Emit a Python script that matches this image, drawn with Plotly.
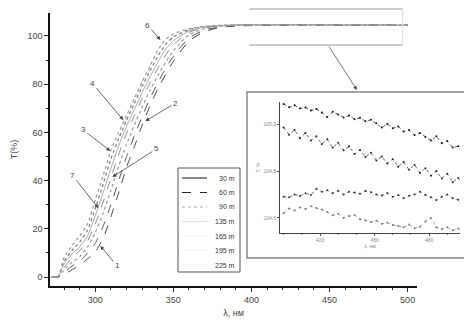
import plotly.graph_objects as go

# ---------------- data ----------------
wavelength = [272, 276, 280, 285, 290, 295, 300, 305, 310, 315, 320, 325, 330, 335,
              340, 345, 350, 360, 370, 380, 390, 400, 425, 450, 475, 500]

t_30m = [0, 0, 1, 3, 5, 7.5, 10.5, 16, 25, 35, 45.5, 54, 63, 71, 78, 84, 89.5, 97.8,
         101.8, 103.5, 104.1, 104.3, 104.5, 104.4, 104.4, 104.3]
t_60m = [0, 0, 2, 4.5, 6.5, 10, 14, 21, 30, 40, 50, 58.5, 66.5, 74, 80.5, 86.5, 91.5,
         99.2, 102.4, 103.7, 104.2, 104.4, 104.5, 104.5, 104.5, 104.4]
t_90m = [0, 0, 6.5, 11, 14.5, 19.5, 28.5, 38.5, 49, 57.5, 65, 72, 79, 85.5, 91.5, 96.5,
         99.5, 102.6, 103.8, 104.3, 104.5, 104.6, 104.6, 104.6, 104.5, 104.5]
t_135m = [0, 0, 5.5, 9.5, 12.5, 17, 25.5, 35, 45, 54.5, 62.5, 69.5, 76.5, 83, 89, 94.5,
          98, 102.1, 103.6, 104.2, 104.5, 104.6, 104.7, 104.6, 104.6, 104.5]
t_165m = [0, 0, 3, 6, 8.5, 12.5, 18.5, 26.5, 36, 46, 55, 63, 70.5, 77.5, 83.5, 89, 93.8,
          100.5, 103, 103.9, 104.3, 104.5, 104.6, 104.6, 104.6, 104.5]
t_195m = [0, 0, 4, 8, 11, 15, 22, 31, 41, 51, 59.5, 67, 74, 80.5, 86.5, 92, 96.3, 101.5,
          103.4, 104.1, 104.4, 104.6, 104.7, 104.7, 104.6, 104.6]
t_225m = [0, 0, 8, 13, 17, 22, 32, 42, 52.5, 60, 67, 74, 81, 87.5, 94, 98.5, 100.8, 103,
          104, 104.4, 104.6, 104.6, 104.6, 104.5, 104.5, 104.4]

series_names = ["30 m", "60 m", "90 m", "135 m", "165 m", "195 m", "225 m"]

# inset (zoomed plateau)
inset_wl = [400, 403, 406, 409, 412, 415, 418, 421, 424, 427, 430, 433, 436, 439, 442,
            445, 448, 451, 454, 457, 460, 463, 466, 469, 472, 475, 478, 481, 484, 487,
            490, 493, 496, 499]
inset_s1 = [105.085, 105.072, 105.080, 105.066, 105.071, 105.058, 105.064, 105.049,
            105.030, 105.052, 105.041, 105.028, 105.036, 105.021, 105.027, 105.012,
            105.018, 105.003, 104.985, 105.000, 104.982, 104.990, 104.968, 104.975,
            104.953, 104.962, 104.945, 104.930, 104.948, 104.918, 104.928, 104.900,
            104.905, 104.872]
inset_s2 = [104.985, 104.955, 104.975, 104.940, 104.962, 104.930, 104.948, 104.915,
            104.935, 104.900, 104.920, 104.888, 104.905, 104.872, 104.890, 104.860,
            104.878, 104.845, 104.862, 104.832, 104.850, 104.818, 104.838, 104.805,
            104.826, 104.792, 104.812, 104.780, 104.800, 104.768, 104.788, 104.752,
            104.770, 104.740]
inset_s3 = [104.690, 104.688, 104.700, 104.694, 104.705, 104.698, 104.725, 104.712,
            104.718, 104.705, 104.716, 104.700, 104.712, 104.708, 104.703, 104.715,
            104.710, 104.700, 104.696, 104.706, 104.690, 104.698, 104.684, 104.695,
            104.700, 104.712, 104.698, 104.688, 104.676, 104.690, 104.700, 104.684,
            104.678, 104.668]
inset_s4 = [104.620, 104.640, 104.632, 104.645, 104.638, 104.650, 104.642, 104.636,
            104.625, 104.612, 104.618, 104.600, 104.608, 104.612, 104.595, 104.590,
            104.583, 104.588, 104.575, 104.580, 104.570, 104.566, 104.560, 104.572,
            104.556, 104.563, 104.585, 104.600, 104.560, 104.552, 104.560, 104.548,
            104.555, 104.545]

# curve labels (number, wavelength, T at arrow tip, text offset px)
label_text = ["6", "4", "2", "3", "5", "7", "1"]
label_x = [341.7, 317.9, 332.1, 309.6, 310.9, 301.9, 303.2]
label_y = [98.3, 65.1, 64.7, 52.3, 41.5, 28.6, 12.9]
label_ax = [-13, -31, 30, -27, 44, -26, 17]
label_ay = [-15, -37, -18, -21, -28, -33, 20]

# ---------------- figure ----------------
FONT = "Liberation Sans, Arial, sans-serif"
fig = go.Figure()

curves = [t_30m, t_60m, t_90m, t_135m, t_165m, t_195m, t_225m]
styles = [
    dict(color="#444444", dash="dash", width=1),
    dict(color="#555555", dash="dash", width=1),
    dict(color="#777777", dash="dot", width=1.2),
    dict(color="#aaaaaa", dash="solid", width=1),
    dict(color="#999999", dash="dot", width=1.2),
    dict(color="#888888", dash="dash", width=1),
    dict(color="#999999", dash="dot", width=1.2),
]
legend_styles = [
    dict(color="#111111", dash="solid", width=1),
    dict(color="#222222", dash="dash", width=1),
    dict(color="#aaaaaa", dash="dot", width=1.2),
    dict(color="#dddddd", dash="solid", width=1),
    dict(color="#f2f2f2", dash="solid", width=1),
    dict(color="#f2f2f2", dash="solid", width=1),
    dict(color="#f2f2f2", dash="solid", width=1),
]
for name, vals, st in zip(series_names, curves, styles):
    fig.add_trace(go.Scatter(x=wavelength, y=vals, mode="lines", name=name,
                             line=dict(shape="spline", smoothing=0.6, **st),
                             showlegend=False, xaxis="x", yaxis="y"))

inset_series = [inset_s1, inset_s2, inset_s3, inset_s4]
inset_colors = ["#111111", "#222222", "#333333", "#777777"]
for vals, c in zip(inset_series, inset_colors):
    fig.add_trace(go.Scatter(x=inset_wl, y=vals, mode="lines+markers",
                             line=dict(color=c, width=0.7, dash="dot"),
                             marker=dict(color=c, size=2),
                             showlegend=False, xaxis="x2", yaxis="y2"))

# ---------------- layout ----------------
OFF = 8  # page body margin
W, H = 472 - OFF, 332 - OFF
L, R, T, B = 42, 5, 5, 46
pw, ph = W - L - R, H - T - B


def px(x):  # reference-window pixel -> paper x
    return (x - OFF - L) / pw


def py(y):  # reference-window pixel -> paper y
    return (H - B - (y - OFF)) / ph


fig.update_layout(
    width=W, height=H,
    margin=dict(l=L, r=R, t=T, b=B, pad=0),
    paper_bgcolor="white", plot_bgcolor="white",
    font=dict(family=FONT, size=9, color="#333333"),
    showlegend=False,
    xaxis=dict(domain=[0, px(417)], range=[271, 506], tickvals=[300, 350, 400, 450, 500],
               ticks="outside", ticklen=4, tickwidth=1, tickcolor="#222",
               minor=dict(dtick=10, ticks="outside", ticklen=2, tickcolor="#222"),
               showline=True, linecolor="#111", linewidth=1.5, showgrid=False,
               zeroline=False, tickfont=dict(size=9, color="#444"),
               title=dict(text="λ, нм", font=dict(size=9, color="#444"), standoff=6)),
    yaxis=dict(domain=[0, 1], range=[-3.7, 109.5], tickvals=[0, 20, 40, 60, 80, 100],
               ticks="outside", ticklen=4, tickwidth=1, tickcolor="#222",
               minor=dict(dtick=10, ticks="outside", ticklen=2, tickcolor="#222"),
               showline=True, linecolor="#111", linewidth=1.5, showgrid=False,
               zeroline=False, tickfont=dict(size=9, color="#444"),
               title=dict(text="T(%)", font=dict(size=9, color="#444"), standoff=8)),
    xaxis2=dict(domain=[px(280), px(460)], anchor="y2", range=[398, 497],
                tickvals=[420, 450, 480], ticks="outside", ticklen=2, tickcolor="#555",
                minor=dict(dtick=10, ticks="outside", ticklen=1, tickcolor="#777"),
                showline=True, linecolor="#444", linewidth=1, showgrid=False,
                zeroline=False, tickfont=dict(size=5, color="#888"),
                title=dict(text="λ, нм", font=dict(size=5, color="#888"), standoff=2)),
    yaxis2=dict(domain=[py(233), py(102)], anchor="x2", range=[104.536, 105.094],
                tickvals=[104.6, 104.8, 105.0], ticktext=["104,6", "104,8", "105,0"],
                ticks="outside", ticklen=2, tickcolor="#555",
                showline=True, linecolor="#444", linewidth=1, showgrid=False,
                zeroline=False, tickfont=dict(size=5, color="#888"),
                title=dict(text="T, %", font=dict(size=5, color="#888"), standoff=2)),
)

shapes = [
    # inset frame
    dict(type="rect", xref="paper", yref="paper", x0=px(247), x1=px(470),
         y0=py(258), y1=py(92), line=dict(color="#888", width=1.5),
         fillcolor="white", layer="below"),
    # zoom region on main plot
    dict(type="line", xref="x", yref="paper", x0=398.7, x1=496.8,
         y0=py(9), y1=py(9), line=dict(color="#999", width=1)),
    dict(type="line", xref="x", yref="paper", x0=398.7, x1=496.8,
         y0=py(45), y1=py(45), line=dict(color="#999", width=1)),
    dict(type="line", xref="x", yref="paper", x0=496.8, x1=496.8,
         y0=py(45), y1=py(9), line=dict(color="#ddd", width=1)),
    # legend box
    dict(type="rect", xref="paper", yref="paper", x0=px(178), x1=px(240),
         y0=py(272), y1=py(168), line=dict(color="#555", width=1),
         fillcolor="white", layer="above"),
]

annotations = []
for t, x, y, ax, ay in zip(label_text, label_x, label_y, label_ax, label_ay):
    annotations.append(dict(x=x, y=y, xref="x", yref="y", text=t, showarrow=True,
                            ax=ax, ay=ay, arrowhead=2, arrowsize=1, arrowwidth=0.8,
                            arrowcolor="#444", font=dict(size=8, color="#444")))
annotations.append(dict(x=px(357), y=py(90), xref="paper", yref="paper", text="",
                        showarrow=True, ax=-29, ay=-45, arrowhead=2, arrowsize=1,
                        arrowwidth=0.8, arrowcolor="#555"))

# custom legend entries
for i, (name, lst) in enumerate(zip(series_names, legend_styles)):
    yy = 178 + i * 14.5
    shapes.append(dict(type="line", xref="paper", yref="paper", x0=px(182), x1=px(207),
                       y0=py(yy), y1=py(yy), line=lst, layer="above"))
    annotations.append(dict(x=px(237), y=py(yy), xref="paper", yref="paper", text=name,
                            showarrow=False, xanchor="right", yanchor="middle",
                            font=dict(size=7, color="#333")))

fig.update_layout(shapes=shapes, annotations=annotations)

fig.write_html("out.html")
